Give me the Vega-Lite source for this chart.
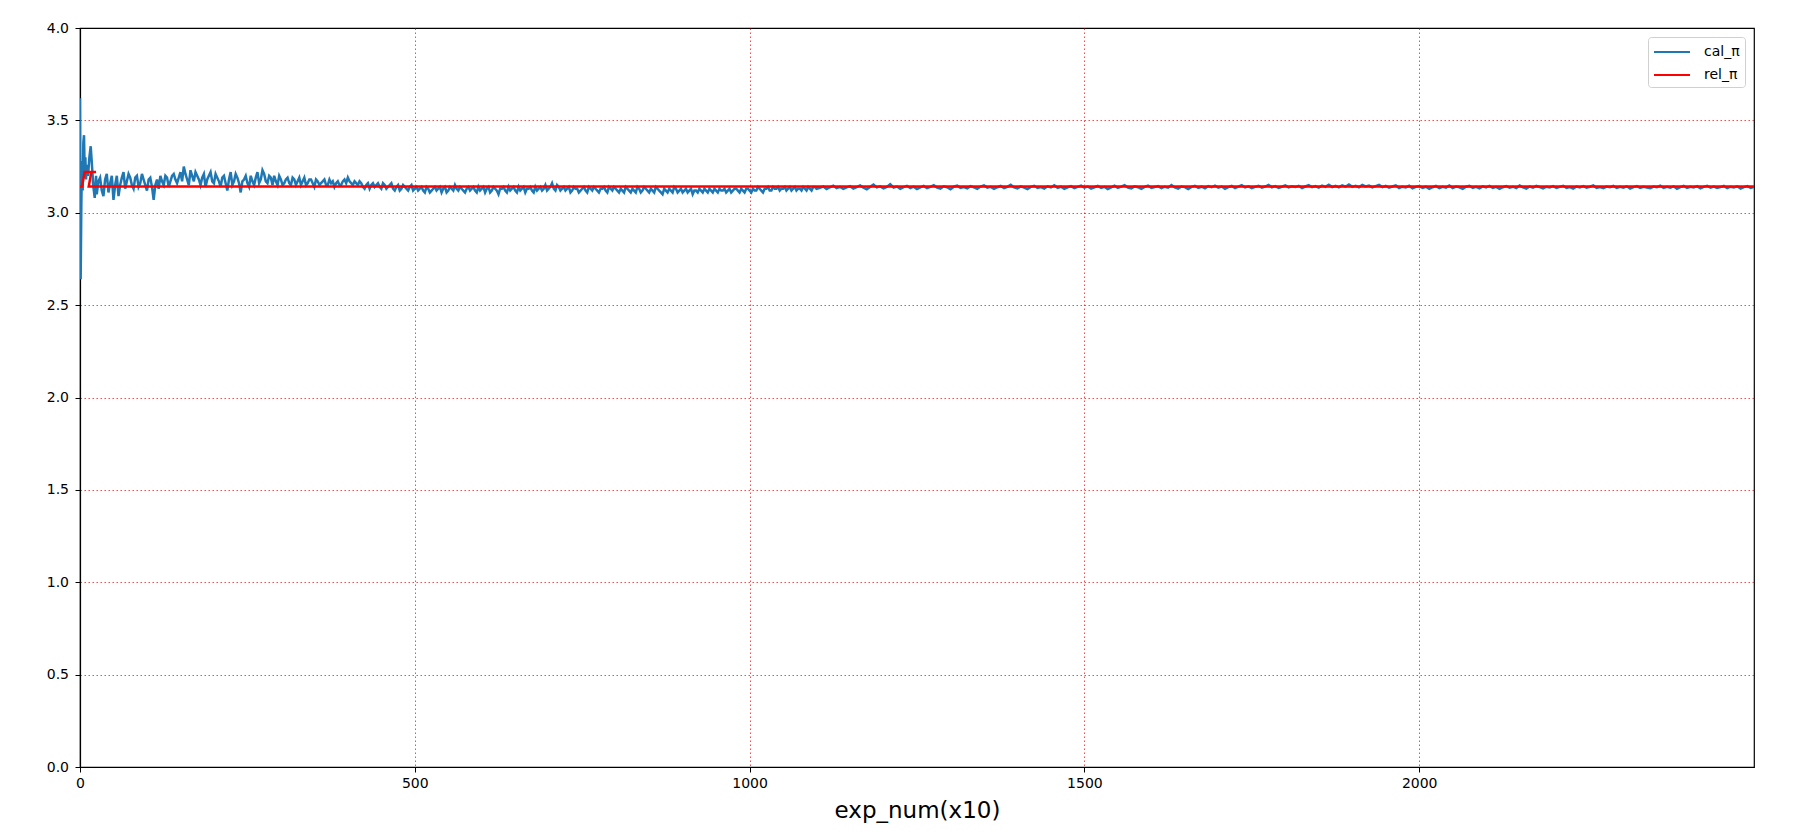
{
  "$schema": "https://vega.github.io/schema/vega-lite/v6.json",
  "width": 1674,
  "height": 739,
  "autosize": {"type": "none"},
  "padding": {"left": 80, "top": 28, "right": 43, "bottom": 72},
  "background": "white",
  "config": {
    "font": "DejaVu Sans",
    "view": {"stroke": "black", "strokeWidth": 1.2},
    "axis": {
      "labelFont": "DejaVu Sans",
      "titleFont": "DejaVu Sans",
      "labelFontSize": 14,
      "labelColor": "#000000",
      "tickColor": "#000000",
      "tickSize": 5,
      "tickWidth": 1,
      "domainColor": "#000000",
      "domainWidth": 1.2,
      "gridColor": "#ff0000",
      "gridDash": [1.5, 2.5],
      "gridWidth": 1,
      "gridOpacity": 0.85,
      "labelPadding": 4,
      "labelFlush": false
    }
  },
  "datasets": {
    "cal": [
      {"n":0,"v":3.62},{"n":1,"v":2.64},{"n":2,"v":3.05},{"n":3,"v":3.28},{"n":4,"v":3.12},{"n":5,"v":3.38},{"n":6,"v":3.42},{"n":7,"v":3.22},{"n":8,"v":3.3},{"n":9,"v":3.18},{"n":10,"v":3.26},{"n":12,"v":3.2},{"n":14,"v":3.3},{"n":16,"v":3.36},{"n":18,"v":3.25},{"n":20,"v":3.14},{"n":22,"v":3.08},{"n":24,"v":3.2},
      {"n":25,"v":3.10},{"n":30,"v":3.19},{"n":35,"v":3.09},{"n":40,"v":3.21},{"n":45,"v":3.16},{"n":50,"v":3.07},{"n":55,"v":3.2},{"n":60,"v":3.15},{"n":65,"v":3.22},{"n":70,"v":3.17},{"n":75,"v":3.19},{"n":80,"v":3.13},{"n":85,"v":3.2},{"n":90,"v":3.16},{"n":95,"v":3.18},{"n":100,"v":3.12},
      {"n":105,"v":3.19},{"n":110,"v":3.07},{"n":115,"v":3.18},{"n":120,"v":3.2},{"n":125,"v":3.15},{"n":130,"v":3.19},{"n":135,"v":3.17},{"n":140,"v":3.21},{"n":145,"v":3.16},{"n":150,"v":3.22},{"n":155,"v":3.25},{"n":160,"v":3.18},{"n":165,"v":3.23},{"n":170,"v":3.17},{"n":175,"v":3.2},{"n":180,"v":3.15},{"n":185,"v":3.21},{"n":190,"v":3.18},{"n":195,"v":3.22},{"n":200,"v":3.16},
      {"n":205,"v":3.19},{"n":210,"v":3.14},{"n":215,"v":3.2},{"n":220,"v":3.12},{"n":225,"v":3.22},{"n":230,"v":3.17},{"n":235,"v":3.19},{"n":240,"v":3.11},{"n":245,"v":3.18},{"n":250,"v":3.16},{"n":255,"v":3.2},{"n":260,"v":3.15},{"n":265,"v":3.22},{"n":270,"v":3.18},{"n":275,"v":3.21},{"n":280,"v":3.16},{"n":285,"v":3.19},{"n":290,"v":3.2},{"n":295,"v":3.15},{"n":300,"v":3.18},
      {"n":305,"v":3.16},{"n":310,"v":3.19},{"n":315,"v":3.15},{"n":320,"v":3.18},{"n":325,"v":3.17},{"n":330,"v":3.15},{"n":335,"v":3.19},{"n":340,"v":3.16},{"n":345,"v":3.18},{"n":350,"v":3.14},{"n":355,"v":3.17},{"n":360,"v":3.16},{"n":365,"v":3.18},{"n":370,"v":3.15},{"n":375,"v":3.16},{"n":380,"v":3.14},{"n":385,"v":3.17},{"n":390,"v":3.15},{"n":395,"v":3.18},{"n":400,"v":3.19},
      {"n":405,"v":3.16},{"n":410,"v":3.17},{"n":415,"v":3.15},{"n":420,"v":3.16},{"n":425,"v":3.13},{"n":430,"v":3.16},{"n":435,"v":3.15},{"n":440,"v":3.14},{"n":445,"v":3.16},{"n":450,"v":3.13},{"n":455,"v":3.15},{"n":460,"v":3.14},{"n":465,"v":3.16},{"n":470,"v":3.12},{"n":475,"v":3.15},{"n":480,"v":3.13},{"n":485,"v":3.14},{"n":490,"v":3.12},{"n":495,"v":3.15},{"n":500,"v":3.13},
      {"n":505,"v":3.12},{"n":510,"v":3.14},{"n":515,"v":3.11},{"n":520,"v":3.13},{"n":525,"v":3.12},{"n":530,"v":3.14},{"n":535,"v":3.13},{"n":540,"v":3.11},{"n":545,"v":3.14},{"n":550,"v":3.12},{"n":555,"v":3.13},{"n":560,"v":3.15},{"n":565,"v":3.12},{"n":570,"v":3.13},{"n":575,"v":3.11},{"n":580,"v":3.14},{"n":585,"v":3.13},{"n":590,"v":3.12},{"n":595,"v":3.14},{"n":600,"v":3.13},
      {"n":605,"v":3.11},{"n":610,"v":3.14},{"n":615,"v":3.12},{"n":620,"v":3.13},{"n":625,"v":3.10},{"n":630,"v":3.13},{"n":635,"v":3.12},{"n":640,"v":3.14},{"n":645,"v":3.13},{"n":650,"v":3.12},{"n":655,"v":3.14},{"n":660,"v":3.13},{"n":665,"v":3.11},{"n":670,"v":3.13},{"n":675,"v":3.12},{"n":680,"v":3.14},{"n":685,"v":3.13},{"n":690,"v":3.12},{"n":695,"v":3.15},{"n":700,"v":3.13},
      {"n":705,"v":3.16},{"n":710,"v":3.12},{"n":715,"v":3.14},{"n":720,"v":3.13},{"n":725,"v":3.12},{"n":730,"v":3.14},{"n":735,"v":3.12},{"n":740,"v":3.13},{"n":745,"v":3.11},{"n":750,"v":3.13},{"n":755,"v":3.12},{"n":760,"v":3.14},{"n":765,"v":3.12},{"n":770,"v":3.13},{"n":775,"v":3.11},{"n":780,"v":3.13},{"n":785,"v":3.12},{"n":790,"v":3.14},{"n":795,"v":3.12},{"n":800,"v":3.13},
      {"n":805,"v":3.11},{"n":810,"v":3.12},{"n":815,"v":3.14},{"n":820,"v":3.12},{"n":825,"v":3.13},{"n":830,"v":3.11},{"n":835,"v":3.13},{"n":840,"v":3.12},{"n":845,"v":3.13},{"n":850,"v":3.11},{"n":855,"v":3.12},{"n":860,"v":3.14},{"n":865,"v":3.12},{"n":870,"v":3.10},{"n":875,"v":3.12},{"n":880,"v":3.13},{"n":885,"v":3.11},{"n":890,"v":3.13},{"n":895,"v":3.12},{"n":900,"v":3.11},
      {"n":905,"v":3.13},{"n":910,"v":3.12},{"n":915,"v":3.10},{"n":920,"v":3.12},{"n":925,"v":3.13},{"n":930,"v":3.11},{"n":935,"v":3.12},{"n":940,"v":3.13},{"n":945,"v":3.11},{"n":950,"v":3.12},{"n":955,"v":3.13},{"n":960,"v":3.12},{"n":965,"v":3.11},{"n":970,"v":3.13},{"n":975,"v":3.12},{"n":980,"v":3.13},{"n":985,"v":3.11},{"n":990,"v":3.12},{"n":995,"v":3.13},{"n":1000,"v":3.12},
      {"n":1005,"v":3.13},{"n":1010,"v":3.12},{"n":1015,"v":3.13},{"n":1020,"v":3.11},{"n":1025,"v":3.13},{"n":1030,"v":3.12},{"n":1035,"v":3.14},{"n":1040,"v":3.13},{"n":1045,"v":3.12},{"n":1050,"v":3.13},{"n":1055,"v":3.12},{"n":1060,"v":3.14},{"n":1065,"v":3.13},{"n":1070,"v":3.12},{"n":1075,"v":3.13},{"n":1080,"v":3.14},{"n":1085,"v":3.12},{"n":1090,"v":3.13},{"n":1095,"v":3.14},{"n":1100,"v":3.13},
      {"n":1105,"v":3.135},{"n":1110,"v":3.142},{"n":1115,"v":3.128},{"n":1120,"v":3.138},{"n":1125,"v":3.146},{"n":1130,"v":3.133},{"n":1135,"v":3.14},{"n":1140,"v":3.129},{"n":1145,"v":3.137},{"n":1150,"v":3.144},{"n":1155,"v":3.131},{"n":1160,"v":3.139},{"n":1165,"v":3.148},{"n":1170,"v":3.136},{"n":1175,"v":3.127},{"n":1180,"v":3.14},{"n":1185,"v":3.152},{"n":1190,"v":3.137},{"n":1195,"v":3.143},{"n":1200,"v":3.132},
      {"n":1205,"v":3.14},{"n":1210,"v":3.155},{"n":1215,"v":3.136},{"n":1220,"v":3.142},{"n":1225,"v":3.13},{"n":1230,"v":3.139},{"n":1235,"v":3.146},{"n":1240,"v":3.134},{"n":1245,"v":3.141},{"n":1250,"v":3.128},{"n":1255,"v":3.137},{"n":1260,"v":3.145},{"n":1265,"v":3.133},{"n":1270,"v":3.14},{"n":1275,"v":3.149},{"n":1280,"v":3.136},{"n":1285,"v":3.131},{"n":1290,"v":3.143},{"n":1295,"v":3.138},{"n":1300,"v":3.127},
      {"n":1305,"v":3.141},{"n":1310,"v":3.147},{"n":1315,"v":3.135},{"n":1320,"v":3.139},{"n":1325,"v":3.132},{"n":1330,"v":3.144},{"n":1335,"v":3.137},{"n":1340,"v":3.13},{"n":1345,"v":3.142},{"n":1350,"v":3.148},{"n":1355,"v":3.136},{"n":1360,"v":3.14},{"n":1365,"v":3.129},{"n":1370,"v":3.138},{"n":1375,"v":3.145},{"n":1380,"v":3.133},{"n":1385,"v":3.14},{"n":1390,"v":3.151},{"n":1395,"v":3.137},{"n":1400,"v":3.132},
      {"n":1405,"v":3.143},{"n":1410,"v":3.136},{"n":1415,"v":3.128},{"n":1420,"v":3.14},{"n":1425,"v":3.146},{"n":1430,"v":3.134},{"n":1435,"v":3.139},{"n":1440,"v":3.131},{"n":1445,"v":3.143},{"n":1450,"v":3.137},{"n":1455,"v":3.149},{"n":1460,"v":3.135},{"n":1465,"v":3.141},{"n":1470,"v":3.13},{"n":1475,"v":3.138},{"n":1480,"v":3.144},{"n":1485,"v":3.133},{"n":1490,"v":3.14},{"n":1495,"v":3.147},{"n":1500,"v":3.136},
      {"n":1505,"v":3.142},{"n":1510,"v":3.131},{"n":1515,"v":3.138},{"n":1520,"v":3.145},{"n":1525,"v":3.134},{"n":1530,"v":3.14},{"n":1535,"v":3.128},{"n":1540,"v":3.137},{"n":1545,"v":3.146},{"n":1550,"v":3.135},{"n":1555,"v":3.141},{"n":1560,"v":3.149},{"n":1565,"v":3.136},{"n":1570,"v":3.132},{"n":1575,"v":3.143},{"n":1580,"v":3.138},{"n":1585,"v":3.129},{"n":1590,"v":3.14},{"n":1595,"v":3.147},{"n":1600,"v":3.134},
      {"n":1605,"v":3.139},{"n":1610,"v":3.144},{"n":1615,"v":3.133},{"n":1620,"v":3.141},{"n":1625,"v":3.136},{"n":1630,"v":3.15},{"n":1635,"v":3.137},{"n":1640,"v":3.131},{"n":1645,"v":3.142},{"n":1650,"v":3.139},{"n":1655,"v":3.128},{"n":1660,"v":3.14},{"n":1665,"v":3.146},{"n":1670,"v":3.135},{"n":1675,"v":3.141},{"n":1680,"v":3.132},{"n":1685,"v":3.144},{"n":1690,"v":3.138},{"n":1695,"v":3.147},{"n":1700,"v":3.136},
      {"n":1705,"v":3.142},{"n":1710,"v":3.13},{"n":1715,"v":3.139},{"n":1720,"v":3.145},{"n":1725,"v":3.134},{"n":1730,"v":3.141},{"n":1735,"v":3.149},{"n":1740,"v":3.137},{"n":1745,"v":3.143},{"n":1750,"v":3.133},{"n":1755,"v":3.14},{"n":1760,"v":3.146},{"n":1765,"v":3.136},{"n":1770,"v":3.142},{"n":1775,"v":3.151},{"n":1780,"v":3.138},{"n":1785,"v":3.144},{"n":1790,"v":3.135},{"n":1795,"v":3.141},{"n":1800,"v":3.148},
      {"n":1805,"v":3.137},{"n":1810,"v":3.143},{"n":1815,"v":3.139},{"n":1820,"v":3.146},{"n":1825,"v":3.134},{"n":1830,"v":3.142},{"n":1835,"v":3.149},{"n":1840,"v":3.138},{"n":1845,"v":3.144},{"n":1850,"v":3.136},{"n":1855,"v":3.147},{"n":1860,"v":3.14},{"n":1865,"v":3.152},{"n":1870,"v":3.139},{"n":1875,"v":3.145},{"n":1880,"v":3.137},{"n":1885,"v":3.148},{"n":1890,"v":3.141},{"n":1895,"v":3.153},{"n":1900,"v":3.14},
      {"n":1905,"v":3.146},{"n":1910,"v":3.138},{"n":1915,"v":3.15},{"n":1920,"v":3.142},{"n":1925,"v":3.147},{"n":1930,"v":3.137},{"n":1935,"v":3.144},{"n":1940,"v":3.151},{"n":1945,"v":3.139},{"n":1950,"v":3.145},{"n":1955,"v":3.136},{"n":1960,"v":3.142},{"n":1965,"v":3.148},{"n":1970,"v":3.134},{"n":1975,"v":3.141},{"n":1980,"v":3.137},{"n":1985,"v":3.146},{"n":1990,"v":3.132},{"n":1995,"v":3.14},{"n":2000,"v":3.144},
      {"n":2005,"v":3.135},{"n":2010,"v":3.141},{"n":2015,"v":3.129},{"n":2020,"v":3.138},{"n":2025,"v":3.145},{"n":2030,"v":3.133},{"n":2035,"v":3.14},{"n":2040,"v":3.136},{"n":2045,"v":3.147},{"n":2050,"v":3.134},{"n":2055,"v":3.142},{"n":2060,"v":3.138},{"n":2065,"v":3.13},{"n":2070,"v":3.141},{"n":2075,"v":3.146},{"n":2080,"v":3.135},{"n":2085,"v":3.14},{"n":2090,"v":3.132},{"n":2095,"v":3.143},{"n":2100,"v":3.137},
      {"n":2105,"v":3.145},{"n":2110,"v":3.134},{"n":2115,"v":3.14},{"n":2120,"v":3.129},{"n":2125,"v":3.138},{"n":2130,"v":3.144},{"n":2135,"v":3.136},{"n":2140,"v":3.141},{"n":2145,"v":3.133},{"n":2150,"v":3.147},{"n":2155,"v":3.138},{"n":2160,"v":3.131},{"n":2165,"v":3.142},{"n":2170,"v":3.136},{"n":2175,"v":3.145},{"n":2180,"v":3.139},{"n":2185,"v":3.132},{"n":2190,"v":3.141},{"n":2195,"v":3.137},{"n":2200,"v":3.144},
      {"n":2205,"v":3.134},{"n":2210,"v":3.14},{"n":2215,"v":3.146},{"n":2220,"v":3.135},{"n":2225,"v":3.139},{"n":2230,"v":3.131},{"n":2235,"v":3.142},{"n":2240,"v":3.137},{"n":2245,"v":3.144},{"n":2250,"v":3.136},{"n":2255,"v":3.141},{"n":2260,"v":3.148},{"n":2265,"v":3.135},{"n":2270,"v":3.139},{"n":2275,"v":3.133},{"n":2280,"v":3.142},{"n":2285,"v":3.138},{"n":2290,"v":3.145},{"n":2295,"v":3.134},{"n":2300,"v":3.14},
      {"n":2305,"v":3.136},{"n":2310,"v":3.143},{"n":2315,"v":3.131},{"n":2320,"v":3.139},{"n":2325,"v":3.144},{"n":2330,"v":3.135},{"n":2335,"v":3.141},{"n":2340,"v":3.137},{"n":2345,"v":3.133},{"n":2350,"v":3.142},{"n":2355,"v":3.138},{"n":2360,"v":3.146},{"n":2365,"v":3.134},{"n":2370,"v":3.14},{"n":2375,"v":3.136},{"n":2380,"v":3.143},{"n":2385,"v":3.13},{"n":2390,"v":3.139},{"n":2395,"v":3.145},{"n":2400,"v":3.135},
      {"n":2405,"v":3.141},{"n":2410,"v":3.137},{"n":2415,"v":3.144},{"n":2420,"v":3.132},{"n":2425,"v":3.14},{"n":2430,"v":3.146},{"n":2435,"v":3.136},{"n":2440,"v":3.142},{"n":2445,"v":3.134},{"n":2450,"v":3.139},{"n":2455,"v":3.145},{"n":2460,"v":3.133},{"n":2465,"v":3.141},{"n":2470,"v":3.137},{"n":2475,"v":3.143},{"n":2480,"v":3.131},{"n":2485,"v":3.139},{"n":2490,"v":3.144},{"n":2495,"v":3.135},{"n":2500,"v":3.14},
      {"n":27.5,"v":3.17},{"n":32.5,"v":3.12},{"n":37.5,"v":3.18},{"n":42.5,"v":3.11},{"n":47.5,"v":3.2},{"n":52.5,"v":3.15},{"n":57.5,"v":3.09},{"n":62.5,"v":3.19},{"n":67.5,"v":3.13},{"n":72.5,"v":3.21},{"n":77.5,"v":3.15},{"n":82.5,"v":3.19},{"n":87.5,"v":3.14},{"n":92.5,"v":3.21},{"n":97.5,"v":3.15},
      {"n":102.5,"v":3.18},{"n":107.5,"v":3.14},{"n":112.5,"v":3.15},{"n":117.5,"v":3.13},{"n":122.5,"v":3.17},{"n":127.5,"v":3.2},{"n":132.5,"v":3.14},{"n":137.5,"v":3.2},{"n":142.5,"v":3.18},{"n":147.5,"v":3.19},{"n":152.5,"v":3.17},{"n":157.5,"v":3.21},{"n":162.5,"v":3.15},{"n":167.5,"v":3.2},{"n":172.5,"v":3.22},{"n":177.5,"v":3.18},{"n":182.5,"v":3.19},{"n":187.5,"v":3.14},{"n":192.5,"v":3.2},{"n":197.5,"v":3.17},
      {"n":202.5,"v":3.21},{"n":207.5,"v":3.17},{"n":212.5,"v":3.19},{"n":217.5,"v":3.16},{"n":222.5,"v":3.18},{"n":227.5,"v":3.15},{"n":232.5,"v":3.21},{"n":237.5,"v":3.16},{"n":242.5,"v":3.17},{"n":247.5,"v":3.2},{"n":252.5,"v":3.14},{"n":257.5,"v":3.17},{"n":262.5,"v":3.19},{"n":267.5,"v":3.16},{"n":272.5,"v":3.23},{"n":277.5,"v":3.17},{"n":282.5,"v":3.2},{"n":287.5,"v":3.15},{"n":292.5,"v":3.17},{"n":297.5,"v":3.2},
      {"n":302.5,"v":3.15},{"n":307.5,"v":3.18},{"n":312.5,"v":3.16},{"n":317.5,"v":3.19},{"n":322.5,"v":3.15},{"n":327.5,"v":3.19},{"n":332.5,"v":3.17},{"n":337.5,"v":3.15},{"n":342.5,"v":3.18},{"n":347.5,"v":3.16},{"n":352.5,"v":3.18},{"n":357.5,"v":3.15},{"n":362.5,"v":3.17},{"n":367.5,"v":3.15},{"n":372.5,"v":3.18},{"n":377.5,"v":3.17},{"n":382.5,"v":3.16},{"n":387.5,"v":3.15},{"n":392.5,"v":3.17},{"n":397.5,"v":3.16},
      {"n":402.5,"v":3.17},{"n":407.5,"v":3.15},{"n":412.5,"v":3.16},{"n":417.5,"v":3.17},{"n":422.5,"v":3.14},{"n":427.5,"v":3.15},{"n":432.5,"v":3.13},{"n":437.5,"v":3.16},{"n":442.5,"v":3.15},{"n":447.5,"v":3.14},{"n":452.5,"v":3.16},{"n":457.5,"v":3.13},{"n":462.5,"v":3.15},{"n":467.5,"v":3.13},{"n":472.5,"v":3.14},{"n":477.5,"v":3.12},{"n":482.5,"v":3.15},{"n":487.5,"v":3.13},{"n":492.5,"v":3.14},{"n":497.5,"v":3.12},
      {"n":502.5,"v":3.14},{"n":507.5,"v":3.13},{"n":512.5,"v":3.12},{"n":517.5,"v":3.14},{"n":522.5,"v":3.11},{"n":527.5,"v":3.13},{"n":532.5,"v":3.12},{"n":537.5,"v":3.14},{"n":542.5,"v":3.13},{"n":547.5,"v":3.11},{"n":552.5,"v":3.14},{"n":557.5,"v":3.12},{"n":562.5,"v":3.13},{"n":567.5,"v":3.14},{"n":572.5,"v":3.12},{"n":577.5,"v":3.13},{"n":582.5,"v":3.12},{"n":587.5,"v":3.14},{"n":592.5,"v":3.11},{"n":597.5,"v":3.12},
      {"n":602.5,"v":3.14},{"n":607.5,"v":3.13},{"n":612.5,"v":3.11},{"n":617.5,"v":3.14},{"n":622.5,"v":3.12},{"n":627.5,"v":3.13},{"n":632.5,"v":3.14},{"n":637.5,"v":3.11},{"n":642.5,"v":3.12},{"n":647.5,"v":3.14},{"n":652.5,"v":3.11},{"n":657.5,"v":3.12},{"n":662.5,"v":3.14},{"n":667.5,"v":3.13},{"n":672.5,"v":3.14},{"n":677.5,"v":3.11},{"n":682.5,"v":3.12},{"n":687.5,"v":3.14},{"n":692.5,"v":3.13},{"n":697.5,"v":3.12},
      {"n":702.5,"v":3.14},{"n":707.5,"v":3.13},{"n":712.5,"v":3.15},{"n":717.5,"v":3.12},{"n":722.5,"v":3.14},{"n":727.5,"v":3.13},{"n":732.5,"v":3.11},{"n":737.5,"v":3.14},{"n":742.5,"v":3.13},{"n":747.5,"v":3.12},{"n":752.5,"v":3.14},{"n":757.5,"v":3.11},{"n":762.5,"v":3.13},{"n":767.5,"v":3.14},{"n":772.5,"v":3.12},{"n":777.5,"v":3.13},{"n":782.5,"v":3.14},{"n":787.5,"v":3.11},{"n":792.5,"v":3.13},{"n":797.5,"v":3.14},
      {"n":802.5,"v":3.12},{"n":807.5,"v":3.13},{"n":812.5,"v":3.11},{"n":817.5,"v":3.13},{"n":822.5,"v":3.11},{"n":827.5,"v":3.12},{"n":832.5,"v":3.14},{"n":837.5,"v":3.11},{"n":842.5,"v":3.14},{"n":847.5,"v":3.12},{"n":852.5,"v":3.13},{"n":857.5,"v":3.11},{"n":862.5,"v":3.13},{"n":867.5,"v":3.11},{"n":872.5,"v":3.13},{"n":877.5,"v":3.11},{"n":882.5,"v":3.12},{"n":887.5,"v":3.14},{"n":892.5,"v":3.11},{"n":897.5,"v":3.13},
      {"n":902.5,"v":3.12},{"n":907.5,"v":3.11},{"n":912.5,"v":3.13},{"n":917.5,"v":3.12},{"n":922.5,"v":3.11},{"n":927.5,"v":3.12},{"n":932.5,"v":3.13},{"n":937.5,"v":3.11},{"n":942.5,"v":3.12},{"n":947.5,"v":3.13},{"n":952.5,"v":3.11},{"n":957.5,"v":3.12},{"n":962.5,"v":3.13},{"n":967.5,"v":3.12},{"n":972.5,"v":3.11},{"n":977.5,"v":3.13},{"n":982.5,"v":3.12},{"n":987.5,"v":3.13},{"n":992.5,"v":3.11},{"n":997.5,"v":3.13},
      {"n":1002.5,"v":3.11},{"n":1007.5,"v":3.12},{"n":1012.5,"v":3.14},{"n":1017.5,"v":3.12},{"n":1022.5,"v":3.13},{"n":1027.5,"v":3.14},{"n":1032.5,"v":3.12},{"n":1037.5,"v":3.13},{"n":1042.5,"v":3.14},{"n":1047.5,"v":3.13},{"n":1052.5,"v":3.14},{"n":1057.5,"v":3.13},{"n":1062.5,"v":3.12},{"n":1067.5,"v":3.14},{"n":1072.5,"v":3.13},{"n":1077.5,"v":3.12},{"n":1082.5,"v":3.13},{"n":1087.5,"v":3.14},{"n":1092.5,"v":3.12},{"n":1097.5,"v":3.14}
    ],
    "rel": [
      {"o":0,"n":0,"v":3.1416},{"o":1,"n":3,"v":3.1416},{"o":2,"n":7,"v":3.22},{"o":3,"n":24,"v":3.22},{"o":4,"n":17,"v":3.22},{"o":5,"n":13,"v":3.1416},{"o":6,"n":2500,"v":3.1416}
    ]
  },
  "encoding": {
    "x": {
      "field": "n",
      "type": "quantitative",
      "scale": {"domain": [0, 2500], "nice": false, "zero": false},
      "axis": {
        "values": [0, 500, 1000, 1500, 2000],
        "format": "d",
        "title": "exp_num(x10)",
        "titleFontSize": 23,
        "titleFontWeight": "normal",
        "titleColor": "#000000",
        "titlePadding": 9,
        "grid": true,
        "gridOpacity": {"condition": {"test": "datum.value === 0", "value": 0}, "value": 0.85}
      }
    },
    "y": {
      "field": "v",
      "type": "quantitative",
      "scale": {"domain": [0, 4], "nice": false, "zero": false},
      "axis": {
        "values": [0, 0.5, 1, 1.5, 2, 2.5, 3, 3.5, 4],
        "format": ".1f",
        "title": null,
        "labelPadding": 6.5,
        "grid": true,
        "gridOpacity": {"condition": {"test": "datum.value === 4 || datum.value === 0", "value": 0}, "value": 0.85}
      }
    }
  },
  "layer": [
    {
      "data": {"name": "cal"},
      "mark": {"type": "line", "strokeWidth": 2.5, "clip": true},
      "encoding": {
        "color": {
          "datum": "cal_π",
          "scale": {"domain": ["cal_π", "rel_π"], "range": ["#1f77b4", "#ff0000"]},
          "legend": {
            "title": null,
            "orient": "top-right",
            "offset": 9,
            "padding": 5,
            "fillColor": "white",
            "strokeColor": "#d0d0d0",
            "cornerRadius": 3,
            "symbolType": "M-1,0H3",
            "symbolSize": 324,
            "symbolStrokeWidth": 2,
            "labelFontSize": 14,
            "labelFont": "DejaVu Sans",
            "labelColor": "#000000",
            "labelOffset": 31,
            "rowPadding": 6
          }
        }
      }
    },
    {
      "data": {"name": "rel"},
      "mark": {"type": "line", "strokeWidth": 2.5, "clip": true},
      "encoding": {
        "order": {"field": "o", "type": "quantitative"},
        "color": {"datum": "rel_π"}
      }
    }
  ]
}
